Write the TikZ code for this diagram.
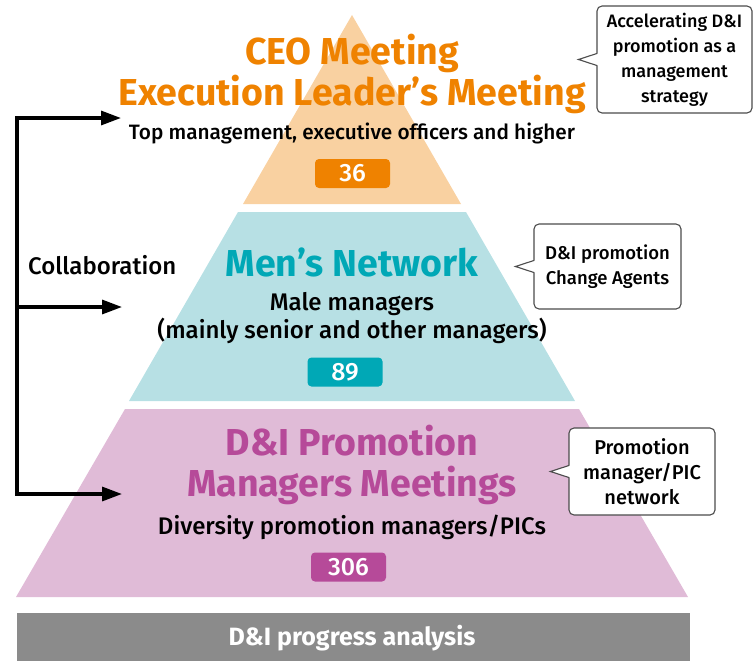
\documentclass[tikz,border=0pt]{standalone}
\usepackage{fontspec}
\setmainfont{Fira Sans}[UprightFont={* Medium}, BoldFont={* Bold}]
\usetikzlibrary{arrows.meta,calc,positioning}

\definecolor{ceoorange}{HTML}{EF8200}
\definecolor{ceofill}{HTML}{F9D1A1}
\definecolor{menteal}{HTML}{00A8B6}
\definecolor{menfill}{HTML}{B7E0E4}
\definecolor{dimagenta}{HTML}{B64A99}
\definecolor{difill}{HTML}{E0BBD7}
\definecolor{bargray}{HTML}{8B8B8B}

\tikzset{
  title/.style={font=\bfseries\fontsize{37.5}{41}\selectfont, align=center, inner sep=0pt},
  sub/.style={font=\fontsize{24}{28}\selectfont, align=center, inner sep=0pt},
  badge/.style={rounded corners=4pt, minimum width=75pt, minimum height=29pt, inner sep=0pt, text=white, font=\fontsize{25}{25}\selectfont},
  callout/.style={draw=black!70, line width=1.1pt, fill=white, rounded corners=5pt, align=center, inner sep=0pt, font=\fontsize{18}{25}\selectfont},
  link/.style={line width=3.2pt, line join=miter},
}

% speech-bubble tail on the west side of a callout
\newcommand{\calloutTail}[1]{%
  \fill[white] ($(#1.west)+(2,-6)$) -- ($(#1.west)+(-18,0)$) -- ($(#1.west)+(2,6)$) -- cycle;
  \draw[draw=black!70, line width=1.1pt] ($(#1.west)+(0.4,-6)$) -- ($(#1.west)+(-18,0)$) -- ($(#1.west)+(0.4,6)$);
}

\begin{document}
\begin{tikzpicture}[x=1pt,y=-1pt]
  \useasboundingbox (0,0) rectangle (754,661);

  % pyramid layers
  \fill[ceofill] (352,15) -- (243,204) -- (461,204) -- cycle;
  \fill[menfill] (238,212) -- (466,212) -- (575,401) -- (129,401) -- cycle;
  \fill[difill] (125,409) -- (579,409) -- (688,597) -- (16,597) -- cycle;
  \fill[bargray] (17,613) rectangle (690,661);

  % top layer
  \node[title, text=ceoorange] (ceoTitle) at (352,74) {CEO Meeting\\Execution Leader’s Meeting};
  \node[sub, font=\fontsize{20.8}{28}\selectfont] (ceoSub) at (352,133) {Top management, executive officers and higher};
  \node[badge, fill=ceoorange] (ceoNum) at (352.5,173.5) {36};

  % middle layer
  \node[title, text=menteal] (menTitle) at (352,262) {Men’s Network};
  \node[sub] (menSub) at (352,318) {Male managers\\(mainly senior and other managers)};
  \node[badge, fill=menteal] (menNum) at (345,372) {89};

  % bottom layer
  \node[title, text=dimagenta] (diTitle) at (352,465) {D\&I Promotion\\Managers Meetings};
  \node[sub] (diSub) at (352,527) {Diversity promotion managers/PICs};
  \node[badge, fill=dimagenta] (diNum) at (348.5,567) {306};

  \node[font=\bfseries\fontsize{25}{25}\selectfont, text=white] (barText) at (352,638) {D\&I progress analysis};

  % callouts
  \node[callout, minimum width=155pt, minimum height=107pt] (ceoNote) at (674.5,59.5)
    {Accelerating D\&I\\promotion as a\\management\\strategy};
  \calloutTail{ceoNote}
  \node[callout, font=\fontsize{18.5}{25}\selectfont, minimum width=147pt, minimum height=85pt] (menNote) at (607.5,266.5)
    {D\&I promotion\\Change Agents};
  \calloutTail{menNote}
  \node[callout, font=\fontsize{20}{25}\selectfont, minimum width=146pt, minimum height=87pt] (diNote) at (642,471.5)
    {Promotion\\manager/PIC\\network};
  \calloutTail{diNote}

  % collaboration links
  \coordinate (linkTop) at (17,118);
  \coordinate (linkMid) at (17,307);
  \coordinate (linkBot) at (17,494);
  \coordinate (tipTop) at (121,118);
  \coordinate (tipMid) at (122,307);
  \coordinate (tipBot) at (122,494);
  \draw[link, {Triangle[length=20pt,width=14pt]}-{Triangle[length=20pt,width=14pt]}]
    (tipTop) -- (linkTop) -- (linkBot) -- (tipBot);
  \draw[link, -{Triangle[length=20pt,width=14pt]}] (linkMid) -- (tipMid);
  \node[font=\fontsize{24}{24}\selectfont, anchor=west, inner sep=0pt] (collab) at (28,265) {Collaboration};
\end{tikzpicture}
\end{document}
